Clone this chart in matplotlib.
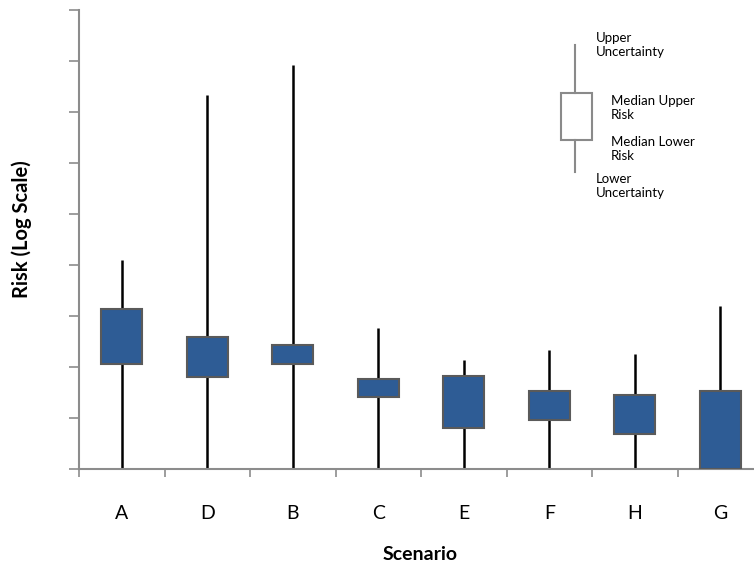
import matplotlib.pyplot as plt
from matplotlib.lines import Line2D
from matplotlib.patches import Rectangle
import numpy as np

plt.rcParams["font.family"] = ["Lato", "DejaVu Sans"]

scenarios = ["A", "D", "B", "C", "E", "F", "H", "G"]
upper_unc = [1.26e-5, 2.14e-2, 8.3e-2, 5.75e-7, 1.38e-7, 2.19e-7, 1.82e-7, 1.58e-6]
median_upper = [1.38e-6, 3.9e-7, 2.7e-7, 5.75e-8, 6.6e-8, 3.4e-8, 2.8e-8, 3.4e-8]
median_lower = [1.15e-7, 6.3e-8, 1.15e-7, 2.57e-8, 6.3e-9, 9.1e-9, 4.9e-9, 1e-9]
lower_unc = [1e-9] * 8

BOX_COLOR = "#2E5C95"
EDGE_COLOR = "#5a5a5a"
SPINE_COLOR = "#8c8c8c"

fig = plt.figure(figsize=(7.54, 5.76), dpi=100)
ax = fig.add_axes([79 / 754, 107 / 576, 684 / 754, 459 / 576])

x = np.arange(len(scenarios))
ax.set_yscale("log")
ax.vlines(x, lower_unc, upper_unc, color="black", linewidth=1.8, zorder=2)
heights = np.array(median_upper) - np.array(median_lower)
ax.bar(x, heights, bottom=median_lower, width=0.48, color=BOX_COLOR,
       edgecolor=EDGE_COLOR, linewidth=1.5, zorder=3)

ax.set_xlim(-0.5, len(scenarios) - 0.5)
ax.set_ylim(1e-9, 1)

# ticks: boundaries get marks, centres get labels
ax.set_xticks(np.arange(len(scenarios) + 1) - 0.5)
ax.set_xticklabels([])
ax.set_xticks(x, minor=True)
ax.set_xticklabels(scenarios, minor=True, fontsize=14)
ax.tick_params(axis="x", which="major", length=6, color=SPINE_COLOR, width=1.2)
ax.tick_params(axis="x", which="minor", length=0, pad=26)

ax.set_yticks([10.0 ** k for k in range(-9, 1)])
ax.yaxis.set_minor_locator(plt.NullLocator())
ax.set_yticklabels([])
ax.tick_params(axis="y", length=7, color=SPINE_COLOR, width=1.2)

for side in ["top", "right"]:
    ax.spines[side].set_visible(False)
for side in ["left", "bottom"]:
    ax.spines[side].set_color(SPINE_COLOR)
    ax.spines[side].set_linewidth(1.5)

fig.text(420 / 754, 1 - 555 / 576, "Scenario", ha="center", va="center",
         fontsize=14, fontweight="bold")
fig.text(22 / 754, 1 - 229 / 576, "Risk (Log Scale)", ha="center", va="center",
         rotation=90, fontsize=14.5, fontweight="bold")

# key illustration in the upper right
W, H = 754, 576
def fx(px):
    return px / W
def fy(py):
    return 1 - py / H

key_gray = "#8a8a8a"
fig.add_artist(Line2D([fx(575), fx(575)], [fy(45), fy(93)], color=key_gray, linewidth=1.5))
fig.add_artist(Line2D([fx(575), fx(575)], [fy(140), fy(172)], color=key_gray, linewidth=1.5))
fig.add_artist(Rectangle((fx(561), fy(140)), fx(592) - fx(561), fy(93) - fy(140),
                         facecolor="white", edgecolor=key_gray, linewidth=1.5,
                         transform=fig.transFigure))
fig.text(fx(596), fy(45), "Upper\nUncertainty", ha="left", va="center", fontsize=9.5,
         linespacing=1.15)
fig.text(fx(611), fy(108), "Median Upper\nRisk", ha="left", va="center", fontsize=9.5,
         linespacing=1.15)
fig.text(fx(611), fy(149), "Median Lower\nRisk", ha="left", va="center", fontsize=9.5,
         linespacing=1.15)
fig.text(fx(596), fy(186), "Lower\nUncertainty", ha="left", va="center", fontsize=9.5,
         linespacing=1.15)

fig.savefig("out.png", dpi=100)
